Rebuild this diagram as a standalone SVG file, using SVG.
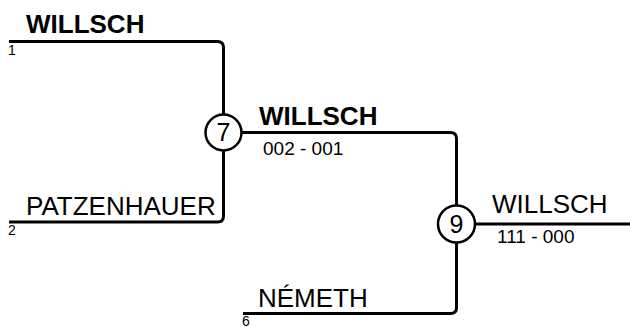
<svg xmlns="http://www.w3.org/2000/svg" width="630" height="327" viewBox="0 0 630 327">
<style>
.ln{fill:none;stroke:#000;stroke-width:3}
.c{fill:#fff;stroke:#000;stroke-width:2.5}
text{font-family:"Liberation Sans",Arial,sans-serif;fill:#000}
.nm{font-size:26px}
.b{font-weight:bold}
.sc{font-size:19px}
.sd{font-size:14px}
.num{font-size:25px;text-anchor:middle}
</style>
<rect width="630" height="327" fill="#fff"/>
<g id="connectors">
<path class="ln" d="M9,41.5 H217.5 Q223.5,41.5 223.5,47.5 V114"/>
<path class="ln" d="M9,222 H217.5 Q223.5,222 223.5,216 V150"/>
<path class="ln" d="M241.5,132.5 H450.5 Q456.5,132.5 456.5,138.5 V205.5"/>
<path class="ln" d="M243,313.5 H450.5 Q456.5,313.5 456.5,307.5 V242.5"/>
<path class="ln" d="M475,224 H630"/>
</g>
<g id="entry1">
<text class="nm b" x="26" y="33">WILLSCH</text>
<text class="sd" x="8" y="55">1</text>
</g>
<g id="entry2">
<text class="nm" x="26" y="215">PATZENHAUER</text>
<text class="sd" x="8" y="235">2</text>
</g>
<g id="entry6">
<text class="nm" x="258" y="307">NÉMETH</text>
<text class="sd" x="242" y="325.5">6</text>
</g>
<g id="match7">
<circle class="c" cx="223.5" cy="132.5" r="18"/>
<text class="num" x="223.5" y="141">7</text>
</g>
<g id="result7">
<text class="nm b" x="259" y="125">WILLSCH</text>
<text class="sc" x="263" y="155">002 - 001</text>
</g>
<g id="match9">
<circle class="c" cx="456.5" cy="224" r="18.5"/>
<text class="num" x="456.5" y="233">9</text>
</g>
<g id="result9">
<text class="nm" x="492" y="213">WILLSCH</text>
<text class="sc" x="497" y="243">111 - 000</text>
</g>
</svg>
